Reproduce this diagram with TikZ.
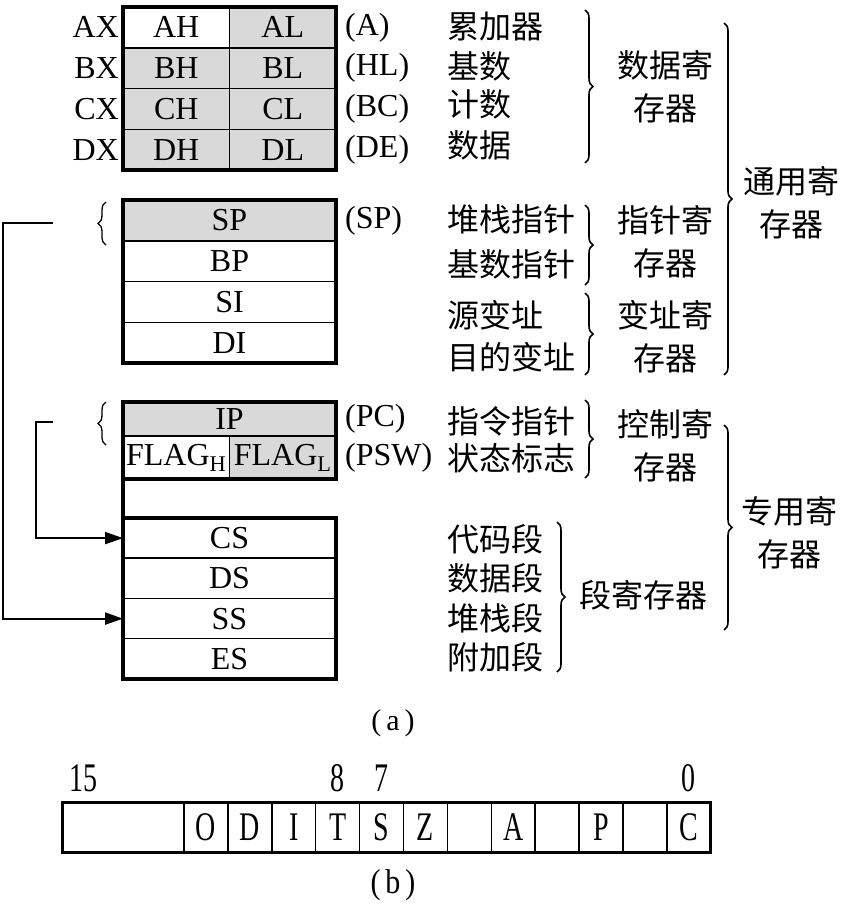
\documentclass[tikz,border=0pt]{standalone}
\usepackage{fontspec}
\usepackage{graphicx}
\setmainfont{Liberation Serif}
\newfontfamily\cjk{Noto Sans CJK SC}
\usetikzlibrary{arrows.meta,positioning,decorations.pathreplacing}
\newcommand{\tall}[1]{\scalebox{1}[1.45]{#1}}

\begin{document}
\begin{tikzpicture}[
  x=1pt, y=-1pt,
  font=\fontsize{32}{38}\selectfont,
  reg/.style={draw, line width=1.5pt, minimum width=106.5pt, minimum height=40.75pt, inner sep=0pt, outer sep=0pt, fill=white},
  wreg/.style={reg, minimum width=213pt},
  shade/.style={fill=gray!30},
  frame/.style={draw, line width=3.5pt},
  arr/.style={-{Triangle[length=18pt, width=12pt]}, line width=2pt},
  lab/.style={inner sep=0pt},
  zh/.style={inner sep=0pt, font=\cjk\fontsize{32}{43}\selectfont, align=center},
  brc/.style={decorate, decoration={brace, amplitude=8pt}, line width=1.6pt},
  lbrc/.style={decorate, decoration={brace, amplitude=8pt}, line width=1.3pt},
  bit/.style={draw, line width=1.5pt, minimum width=43.9pt, minimum height=50pt, inner sep=0pt, outer sep=0pt, font=\fontsize{28}{28}\selectfont},
  num/.style={inner sep=0pt, font=\fontsize{28}{28}\selectfont},
  figcap/.style={inner sep=0pt, font=\fontsize{30}{30}\selectfont}
]
\useasboundingbox (0,0) rectangle (844,909);

% Data registers
\node[reg] (ah) at (176.25,27.4) {AH};
\node[reg, shade, right=0pt of ah] (al) {AL};
\node[reg, shade, below=0pt of ah] (bh) {BH};
\node[reg, shade, right=0pt of bh] (bl) {BL};
\node[reg, shade, below=0pt of bh] (ch) {CH};
\node[reg, shade, right=0pt of ch] (cl) {CL};
\node[reg, shade, below=0pt of ch] (dh) {DH};
\node[reg, shade, right=0pt of dh] (dl) {DL};
\draw[frame] (ah.north west) rectangle (dl.south east);
\node[lab, left=4pt of ah] (ax) {AX};
\node[lab, left=4pt of bh] (bx) {BX};
\node[lab, left=4pt of ch] (cx) {CX};
\node[lab, left=4pt of dh] (dx) {DX};
\node[lab, right=9pt of al] (a8080) {(A)};
\node[lab, right=9pt of bl] (hl8080) {(HL)};
\node[lab, right=9pt of cl] (bc8080) {(BC)};
\node[lab, right=9pt of dl] (de8080) {(DE)};

% Pointer and index registers
\node[wreg, shade] (sp) at (229.5,220.4) {SP};
\node[wreg, below=0pt of sp] (bp) {BP};
\node[wreg, below=0pt of bp] (si) {SI};
\node[wreg, below=0pt of si] (di) {DI};
\draw[frame] (sp.north west) rectangle (di.south east);
\node[lab, right=9pt of sp] (sp8080) {(SP)};
\draw[lbrc] (106,245) -- (106,202);

% Control registers
\node[wreg, shade, minimum height=34pt] (ip) at (229.5,419) {IP};
\node[reg, minimum height=43pt, below=0pt of ip.south west, anchor=north west] (flagh) {FLAG\textsubscript{H}};
\node[reg, shade, minimum height=43pt, right=0pt of flagh] (flagl) {FLAG\textsubscript{L}};
\draw[frame] (ip.north west) rectangle (flagl.south east);
\node[lab, right=9pt of ip] (pc8080) {(PC)};
\node[lab, right=9pt of flagl] (psw8080) {(PSW)};
\draw[lbrc] (106,445) -- (106,402);

% Segment registers
\node[wreg, minimum height=40.25pt] (cs) at (229.5,538.1) {CS};
\node[wreg, minimum height=40.25pt, below=0pt of cs] (ds) {DS};
\node[wreg, minimum height=40.25pt, below=0pt of ds] (ss) {SS};
\node[wreg, minimum height=40.25pt, below=0pt of ss] (es) {ES};
\draw[frame] (cs.north west) rectangle (es.south east);
\draw[frame] (flagh.south west) -- (cs.north west);

% Links from SP and IP to their segments
\coordinate (spin) at (53,223);
\coordinate (ipin) at (53,422);
\draw[arr] (spin) -- ++(-50,0) |- (ss.west);
\draw[arr] (ipin) -- ++(-17,0) |- (cs.west);

% Register names
\node[zh, anchor=west] (lei) at (447,27) {累加器};
\node[zh, anchor=west] (jishu) at (447,66) {基数};
\node[zh, anchor=west] (count) at (447,104) {计数};
\node[zh, anchor=west] (data) at (447,145) {数据};
\node[zh, anchor=west] (stkptr) at (447,219) {堆栈指针};
\node[zh, anchor=west] (baseptr) at (447,264) {基数指针};
\node[zh, anchor=west] (srcidx) at (447,315) {源变址};
\node[zh, anchor=west] (dstidx) at (447,357) {目的变址};
\node[zh, anchor=west] (insptr) at (447,421) {指令指针};
\node[zh, anchor=west] (status) at (447,458) {状态标志};
\node[zh, anchor=west] (code) at (447,539) {代码段};
\node[zh, anchor=west] (dseg) at (447,578) {数据段};
\node[zh, anchor=west] (sseg) at (447,618) {堆栈段};
\node[zh, anchor=west] (eseg) at (447,657) {附加段};

% Group braces and names
\draw[brc] (585,10) -- (585,163);
\draw[brc] (585,205) -- (585,285);
\draw[brc] (585,293) -- (585,375);
\draw[brc] (585,400) -- (585,478);
\draw[brc] (557,522) -- (557,672);
\draw[brc] (724,23) -- (724,375);
\draw[brc] (724,425) -- (724,630);
\node[zh] (datagrp) at (665,86.5) {数据寄\\存器};
\node[zh] (ptrgrp) at (665,241.5) {指针寄\\存器};
\node[zh] (idxgrp) at (665,337) {变址寄\\存器};
\node[zh] (ctlgrp) at (665,446) {控制寄\\存器};
\node[zh] (seggrp) at (643,595) {段寄存器};
\node[zh] (gengrp) at (791,203) {通用寄\\存器};
\node[zh] (spcgrp) at (789,533) {专用寄\\存器};

\node[figcap] (capa) at (393,723) {(\,a\,)};

% Flag register
\node[bit, minimum width=122pt] (hi) at (123,827) {};
\node[bit, right=0pt of hi] (bo) {\tall{O}};
\node[bit, right=0pt of bo] (bd) {\tall{D}};
\node[bit, right=0pt of bd] (bi) {\tall{I}};
\node[bit, right=0pt of bi] (bt) {\tall{T}};
\node[bit, right=0pt of bt] (bs) {\tall{S}};
\node[bit, right=0pt of bs] (bz) {\tall{Z}};
\node[bit, right=0pt of bz] (b5) {};
\node[bit, right=0pt of b5] (ba) {\tall{A}};
\node[bit, right=0pt of ba] (b3) {};
\node[bit, right=0pt of b3] (bp2) {\tall{P}};
\node[bit, right=0pt of bp2] (b1) {};
\node[bit, right=0pt of b1] (bc) {\tall{C}};
\draw[line width=3pt] (hi.north west) rectangle (bc.south east);
\node[num, anchor=south west] (n15) at ([xshift=7pt, yshift=10pt]hi.north west) {\tall{15}};
\node[num, above=10pt of bt] (n8) {\tall{8}};
\node[num, above=10pt of bs] (n7) {\tall{7}};
\node[num, above=10pt of bc] (n0) {\tall{0}};

\node[figcap] (capb) at (393,885) {\scalebox{1}[1.15]{(\,b\,)}};

\end{tikzpicture}
\end{document}
